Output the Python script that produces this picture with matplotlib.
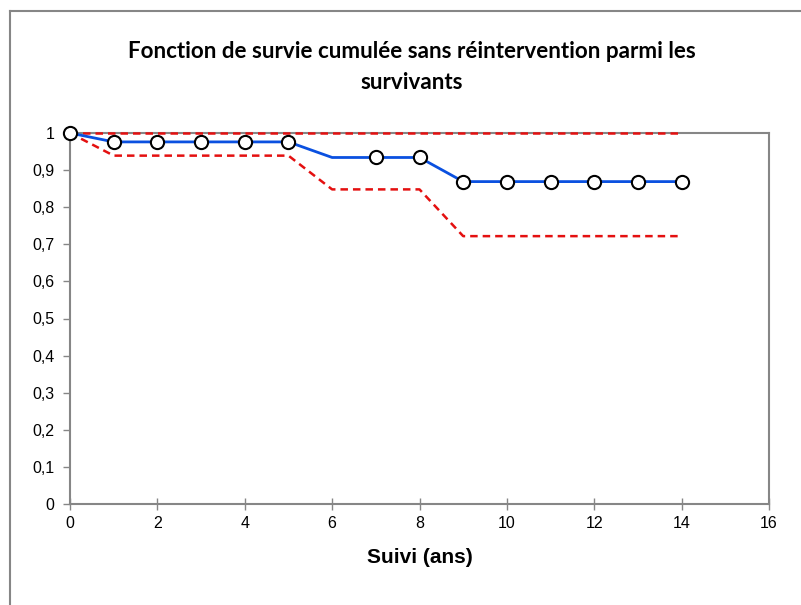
import matplotlib.pyplot as plt
from matplotlib.lines import Line2D
from matplotlib.ticker import FuncFormatter

# données
annees = [0, 1, 2, 3, 4, 5, 6, 7, 8, 9, 10, 11, 12, 13, 14]
survie = [1, 0.976, 0.976, 0.976, 0.976, 0.976, 0.934, 0.934, 0.934,
          0.869, 0.869, 0.869, 0.869, 0.869, 0.869]
ic_bas = [1, 0.939, 0.939, 0.939, 0.939, 0.939, 0.848, 0.848, 0.848,
          0.722, 0.722, 0.722, 0.722, 0.722, 0.722]
ic_haut = [1] * 15
avec_marqueur = [0, 1, 2, 3, 4, 5, 7, 8, 9, 10, 11, 12, 13, 14]

titre = ["Fonction de survie cumulée sans réintervention parmi les", "survivants"]

gris = "#868686"
W, H = 801, 605

fig = plt.figure(figsize=(W / 100, H / 100), dpi=100)
ax = fig.add_axes([70 / W, 1 - 504 / H, 699 / W, 371 / H])

ax.plot(annees, ic_haut, color="#e41010", lw=1.8, ls=(0, (3, 2)), zorder=3, clip_on=False)
ax.plot(annees, ic_bas, color="#e41010", lw=1.8, ls=(0, (3, 2)), zorder=3, clip_on=False)
ax.plot(annees, survie, color="#0a50e0", lw=2, marker="o", markevery=avec_marqueur,
        ms=9.5, mfc="white", mec="black", mew=1.5, zorder=4, clip_on=False)

ax.set_xlim(0, 16)
ax.set_ylim(0, 1)
ax.set_xticks(range(0, 17, 2))
ax.set_yticks([i / 10 for i in range(11)])
ax.yaxis.set_major_formatter(FuncFormatter(lambda v, p: f"{v:g}".replace(".", ",")))

for s in ax.spines.values():
    s.set_color(gris)
    s.set_linewidth(1.5)

tick_font = ["Liberation Sans", "DejaVu Sans"]
ax.tick_params(axis="x", direction="inout", length=8, color=gris, width=1, pad=5)
ax.tick_params(axis="y", direction="out", length=5, color=gris, width=1, pad=6)
for lab in ax.get_xticklabels() + ax.get_yticklabels():
    lab.set_family(tick_font)
    lab.set_fontsize(11.5)

ax.set_xlabel("Suivi (ans)", fontsize=15, fontweight="bold",
              family=["Liberation Sans", "DejaVu Sans"], labelpad=12)

# titre en deux lignes, première ligne ajustée à ~570 px de large
t1 = fig.text(412 / W, 1 - 58 / H, titre[0], ha="center", va="baseline",
              fontsize=15, fontweight="bold", family=["Lato", "DejaVu Sans"])
t2 = fig.text(412 / W, 1 - 89 / H, titre[1], ha="center", va="baseline",
              fontsize=15, fontweight="bold", family=["Lato", "DejaVu Sans"])
rend = fig.canvas.get_renderer()
larg = t1.get_window_extent(rend).width
taille = 15 * 570 / larg
t1.set_fontsize(taille)
t2.set_fontsize(taille)

# cadre extérieur
fig.add_artist(Line2D([10 / W, 1], [1 - 11 / H] * 2, color=gris, lw=1.5))
fig.add_artist(Line2D([10 / W] * 2, [0, 1 - 11 / H], color=gris, lw=1.5))

fig.savefig("out.png", dpi=100)
